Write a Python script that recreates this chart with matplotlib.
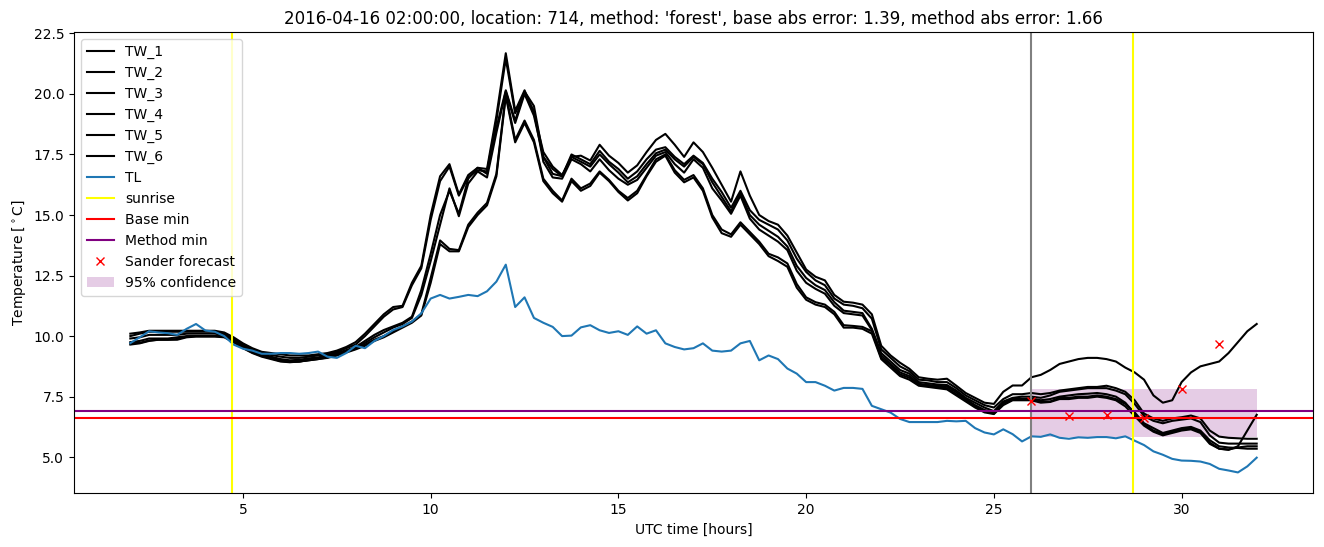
import matplotlib
matplotlib.use("Agg")
import matplotlib.pyplot as plt
import numpy as np

# time axis: quarter-hour samples from 02:00 to 32:00 (next day 08:00)
hours = np.arange(2.0, 32.01, 0.25)

TL = [9.71, 9.95, 10.2, 10.15,
      10.12, 10.05, 10.3, 10.5,
      10.23, 10.18, 10.0, 9.65,
      9.48, 9.4, 9.27, 9.27,
      9.3, 9.3, 9.27, 9.3,
      9.36, 9.15, 9.1, 9.3,
      9.6, 9.5, 9.8, 10.0,
      10.25, 10.4, 10.6, 10.94,
      11.55, 11.7, 11.55, 11.62,
      11.7, 11.65, 11.85, 12.25,
      12.95, 11.2, 11.6, 10.75,
      10.55, 10.38, 10.0, 10.02,
      10.36, 10.45, 10.24, 10.13,
      10.2, 10.05, 10.4, 10.1,
      10.24, 9.7, 9.55, 9.45,
      9.5, 9.7, 9.4, 9.36,
      9.4, 9.7, 9.8, 9.0,
      9.2, 9.05, 8.66, 8.45,
      8.1, 8.1, 7.95, 7.75,
      7.86, 7.86, 7.82, 7.12,
      6.98, 6.84, 6.58, 6.45,
      6.45, 6.45, 6.45, 6.5,
      6.48, 6.5, 6.2, 6.02,
      5.94, 6.15, 5.95, 5.65,
      5.86, 5.84, 5.94, 5.8,
      5.76, 5.82, 5.8, 5.83,
      5.83, 5.78, 5.86, 5.68,
      5.5, 5.24, 5.1, 4.93,
      4.86, 4.85, 4.82, 4.72,
      4.52, 4.45, 4.37, 4.62,
      4.98]

TW_1 = [10.1, 10.15, 10.22, 10.22,
        10.22, 10.22, 10.22, 10.22,
        10.22, 10.22, 10.15, 9.95,
        9.7, 9.5, 9.35, 9.3,
        9.25, 9.2, 9.2, 9.2,
        9.25, 9.3, 9.4, 9.55,
        9.75, 10.1, 10.5, 10.9,
        11.2, 11.25, 12.2, 12.9,
        15.0, 16.6, 17.1, 15.85,
        16.65, 16.95, 16.9, 19.1,
        21.68, 19.3, 20.15, 19.2,
        17.6, 17.0, 16.65, 17.4,
        17.45, 17.25, 17.9, 17.45,
        17.15, 16.75, 17.05, 17.6,
        18.1, 18.35, 17.9, 17.4,
        18.0, 17.6, 16.95, 16.25,
        15.55, 16.8, 15.8, 15.0,
        14.75, 14.6, 14.15, 13.45,
        12.75, 12.45, 12.3, 11.7,
        11.42, 11.38, 11.3, 10.9,
        9.6, 9.2, 8.9, 8.65,
        8.3, 8.24, 8.2, 8.24,
        7.95, 7.65, 7.45, 7.25,
        7.2, 7.7, 7.96, 7.96,
        8.3, 8.4, 8.6, 8.85,
        8.95, 9.05, 9.1, 9.1,
        9.05, 8.95, 8.7, 8.5,
        8.2, 7.55, 7.25, 7.35,
        8.1, 8.5, 8.75, 8.85,
        8.95, 9.3, 9.75, 10.2,
        10.5]

TW_2 = [10.0, 10.1, 10.18, 10.18,
        10.18, 10.18, 10.18, 10.18,
        10.18, 10.18, 10.1, 9.9,
        9.65, 9.45, 9.3, 9.22,
        9.15, 9.1, 9.1, 9.15,
        9.2, 9.25, 9.35, 9.5,
        9.65, 10.0, 10.4, 10.8,
        11.1, 11.2, 12.1, 12.8,
        14.8, 16.4, 17.0, 15.8,
        16.55, 16.85, 16.8, 18.9,
        21.45, 19.2, 20.0, 19.1,
        17.4, 16.9, 16.6, 17.5,
        17.3, 17.1, 17.65, 17.2,
        16.9, 16.5, 16.8, 17.3,
        17.7, 17.8, 17.4, 17.1,
        17.45, 17.15, 16.5, 15.95,
        15.3, 16.0, 15.2, 14.8,
        14.6, 14.4, 13.95, 13.2,
        12.65, 12.3, 12.1, 11.55,
        11.3, 11.25, 11.15, 10.72,
        9.45, 9.1, 8.75, 8.55,
        8.2, 8.17, 8.1, 8.1,
        7.85, 7.55, 7.35, 7.15,
        7.05, 7.4, 7.6, 7.6,
        7.65, 7.6, 7.65, 7.75,
        7.8, 7.85, 7.9, 7.9,
        7.95, 7.85, 7.7, 7.35,
        6.8, 6.6, 6.5, 6.6,
        6.65, 6.72, 6.6, 6.1,
        5.85, 5.8, 5.78, 5.76,
        5.76]

TW_3 = [9.9, 9.95, 10.05, 10.05,
        10.05, 10.05, 10.1, 10.1,
        10.1, 10.1, 10.05, 9.85,
        9.6, 9.4, 9.25, 9.15,
        9.05, 9.0, 9.02, 9.08,
        9.12, 9.2, 9.3, 9.42,
        9.55, 9.8, 10.05, 10.25,
        10.4, 10.55, 10.8, 11.9,
        13.4, 15.0, 16.0, 15.05,
        16.5, 16.95, 16.7, 18.6,
        20.15, 18.9, 20.1, 19.5,
        17.4, 16.7, 16.6, 17.4,
        17.2, 17.0, 17.5, 17.1,
        16.75, 16.35, 16.6, 17.1,
        17.55, 17.7, 17.3, 17.0,
        17.4, 17.1, 16.35, 15.75,
        15.15, 15.9, 15.0, 14.6,
        14.35, 14.1, 13.7, 12.9,
        12.4, 12.1, 11.9, 11.4,
        11.05, 11.0, 10.95, 10.3,
        9.3, 8.95, 8.6, 8.45,
        8.1, 8.05, 8.0, 7.98,
        7.75, 7.45, 7.25, 7.05,
        6.9, 7.3, 7.45, 7.5,
        7.5, 7.45, 7.55, 7.7,
        7.75, 7.8, 7.85, 7.85,
        7.85, 7.75, 7.6, 7.2,
        6.7, 6.5, 6.4, 6.5,
        6.55, 6.6, 6.45, 5.9,
        5.6, 5.56, 5.56, 5.56,
        5.56]

TW_4 = [9.75, 9.8, 9.9, 9.9,
        9.9, 9.95, 10.0, 10.0,
        10.0, 10.0, 10.0, 9.8,
        9.55, 9.35, 9.2, 9.1,
        9.0, 8.95, 8.95, 9.02,
        9.08, 9.15, 9.25, 9.38,
        9.5, 9.72, 9.95, 10.15,
        10.35, 10.5, 10.75, 11.7,
        13.1, 14.6, 16.1, 14.95,
        16.3, 16.8, 16.55, 18.4,
        20.1, 18.8, 20.0, 19.3,
        17.2, 16.55, 16.5, 17.3,
        17.1, 16.8, 17.3, 16.85,
        16.5, 16.25, 16.45, 16.95,
        17.45, 17.6, 17.1, 16.75,
        17.3, 16.95, 16.1, 15.6,
        15.05, 15.8, 14.85, 14.4,
        14.15, 13.9, 13.55, 12.7,
        12.2, 11.95, 11.75, 11.25,
        10.95, 10.9, 10.85, 10.25,
        9.2, 8.85, 8.5, 8.35,
        8.03, 7.98, 7.95, 7.92,
        7.68, 7.4, 7.15, 6.95,
        6.85, 7.25, 7.4, 7.42,
        7.4, 7.3, 7.3, 7.45,
        7.45, 7.5, 7.5, 7.55,
        7.5, 7.4, 7.2, 6.85,
        6.4, 6.2, 6.0, 6.1,
        6.2, 6.25, 6.1, 5.7,
        5.45, 5.4, 5.38, 5.35,
        5.35]

TW_5 = [9.7, 9.72, 9.82, 9.85,
        9.85, 9.88, 9.98, 10.0,
        10.0, 10.0, 9.98, 9.78,
        9.52, 9.32, 9.18, 9.08,
        8.97, 8.93, 8.95, 9.0,
        9.05, 9.1, 9.2, 9.32,
        9.45, 9.6, 9.8, 9.95,
        10.15, 10.35, 10.55, 10.85,
        12.2, 13.8, 13.5, 13.5,
        14.5, 15.0, 15.4, 16.6,
        19.9, 18.0, 18.8, 18.0,
        16.4, 15.9, 15.55, 16.4,
        16.0, 16.2, 16.75, 16.4,
        15.95, 15.6, 15.9, 16.6,
        17.2, 17.45, 16.75, 16.35,
        16.55, 16.0, 14.9, 14.25,
        14.1, 14.6, 14.2, 13.8,
        13.3, 13.1, 12.86, 12.0,
        11.5, 11.3, 11.2, 10.9,
        10.35, 10.35, 10.3, 10.1,
        9.05, 8.7, 8.35, 8.2,
        7.95, 7.9, 7.85, 7.8,
        7.55, 7.3, 7.05, 6.85,
        6.78, 7.15, 7.35, 7.35,
        7.35, 7.25, 7.28, 7.4,
        7.4, 7.45, 7.45, 7.5,
        7.45, 7.35, 7.1, 6.7,
        6.3, 6.05, 5.9, 6.0,
        6.1, 6.15, 6.0, 5.55,
        5.35, 5.32, 5.4, 5.45,
        5.45]

TW_6 = [9.65, 9.7, 9.8, 9.85,
        9.85, 9.85, 9.95, 9.98,
        9.98, 9.98, 9.95, 9.75,
        9.5, 9.3, 9.15, 9.05,
        8.95, 8.92, 8.95, 9.0,
        9.05, 9.12, 9.22, 9.35,
        9.48, 9.65, 9.85, 10.0,
        10.2, 10.4, 10.6, 10.9,
        12.4, 13.95, 13.6, 13.55,
        14.6, 15.1, 15.5, 16.7,
        20.0, 18.1, 18.9, 18.1,
        16.5, 16.0, 15.6, 16.5,
        16.1, 16.3, 16.8, 16.45,
        16.0, 15.7, 16.0, 16.65,
        17.3, 17.5, 16.85, 16.45,
        16.65, 16.1, 15.0, 14.4,
        14.2, 14.7, 14.3, 13.9,
        13.4, 13.25, 13.0, 12.15,
        11.6, 11.4, 11.3, 11.0,
        10.45, 10.42, 10.38, 10.2,
        9.1, 8.8, 8.42, 8.28,
        8.0, 7.95, 7.9, 7.85,
        7.6, 7.35, 7.1, 6.9,
        6.8, 7.2, 7.4, 7.4,
        7.42, 7.35, 7.4, 7.5,
        7.55, 7.6, 7.62, 7.65,
        7.6, 7.5, 7.25, 6.8,
        6.35, 6.1, 5.95, 6.05,
        6.15, 6.2, 6.05, 5.6,
        5.35, 5.3, 5.45, 6.1,
        6.75]

sunrise = [4.7, 28.7]
forecast_time = 26.0
base_min = 6.6
method_min = 6.9

sander_hours = [26, 27, 28, 29, 30, 31]
sander_values = [7.34, 6.68, 6.75, 6.63, 7.83, 9.66]

conf_hours = [26.0, 32.0]
conf_low = 5.83
conf_high = 7.8

title = ("2016-04-16 02:00:00, location: 714, method: 'forest', "
         "base abs error: 1.39, method abs error: 1.66")

fig = plt.figure(figsize=(13.24, 5.47), dpi=100)
ax = fig.add_axes([0.0559, 0.098, 0.9358, 0.843])

tw = [TW_1, TW_2, TW_3, TW_4, TW_5, TW_6]
for i, series in enumerate(tw):
    ax.plot(hours, series, color="black", label="TW_%d" % (i + 1))
ax.plot(hours, TL, color="C0", label="TL")

ax.axvline(sunrise[0], color="yellow", label="sunrise")
ax.axvline(sunrise[1], color="yellow")
ax.axvline(forecast_time, color="gray")
ax.axhline(base_min, color="red", label="Base min")
ax.axhline(method_min, color="purple", label="Method min")
ax.plot(sander_hours, sander_values, "rx", label="Sander forecast")
ax.fill_between(conf_hours, conf_low, conf_high, color="purple", alpha=0.2,
                linewidth=0, label="95% confidence")

ax.set_title(title)
ax.set_xlabel("UTC time [hours]")
ax.set_ylabel(r"Temperature [$^\circ$C]")
ax.legend(loc="upper left")

fig.savefig("out.png", dpi=100)
